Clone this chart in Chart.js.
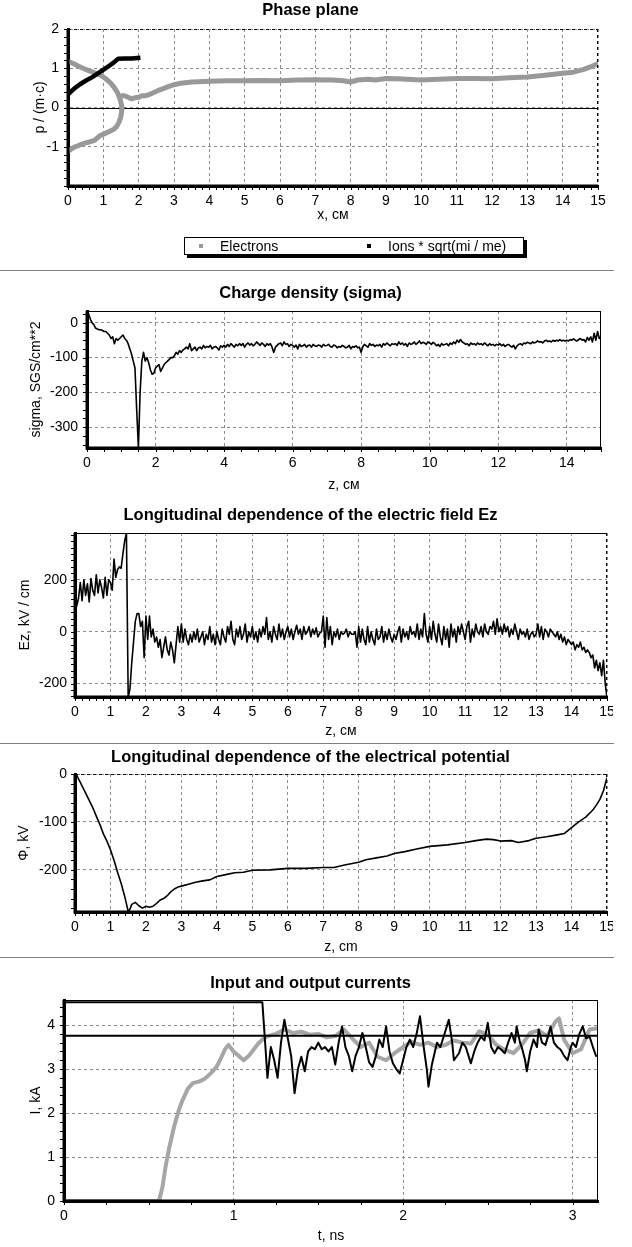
<!DOCTYPE html>
<html>
<head>
<meta charset="utf-8">
<script src="https://cdn.jsdelivr.net/npm/chart.js@4.4.1/dist/chart.umd.min.js"></script>
<style>
  html, body { margin:0; padding:0; background:#fff; }
  body { width:632px; height:1247px; position:relative; overflow:hidden; }
  .panel { position:absolute; left:0; overflow:hidden; }
  .sep { position:absolute; left:0; width:614px; height:1px; background:#808080; }
</style>
</head>
<body>
<div class="panel" style="top:0;width:632px;height:270px"><canvas id="c1" width="632" height="270"></canvas></div>
<div class="sep" style="top:270px"></div>
<div class="panel" style="top:271px;width:632px;height:229px"><canvas id="c2" width="632" height="229"></canvas></div>
<div class="panel" style="top:500px;width:613px;height:243px"><canvas id="c3" width="632" height="243"></canvas></div>
<div class="sep" style="top:743px"></div>
<div class="panel" style="top:744px;width:613px;height:213px"><canvas id="c4" width="632" height="213"></canvas></div>
<div class="sep" style="top:957px"></div>
<div class="panel" style="top:958px;width:632px;height:289px"><canvas id="c5" width="632" height="289"></canvas></div>
<script>
// ================= DATA =================
// --- Panel 1: Phase plane ---
const phaseXTicks = [0,1,2,3,4,5,6,7,8,9,10,11,12,13,14,15];
const phaseYTicks = [-1,0,1,2];
const electronX = [0.0,0.15,0.3,0.5,0.7,0.9,1.05,1.2,1.3,1.4,1.47,1.52,1.52,1.49,1.44,1.38,1.3,1.2,1.1,1.0,0.9,0.8,0.75,0.7,0.6,0.5,0.4,0.3,0.2,0.1,0.0,
  null,
  1.5,1.6,1.7,1.8,1.9,2.0,2.1,2.2,2.3,2.4,2.6,2.8,3.0,3.2,3.5,4.0,4.5,5.0,5.5,6.0,6.5,7.0,7.5,7.8,8.0,8.2,8.5,8.7,9.0,9.3,9.6,10.0,10.5,11.0,11.5,12.0,12.5,13.0,13.5,14.0,14.3,14.6,14.8,15.0];
const electronP = [1.18,1.12,1.05,0.97,0.9,0.83,0.75,0.63,0.52,0.38,0.22,0.05,-0.1,-0.25,-0.38,-0.48,-0.55,-0.6,-0.64,-0.68,-0.72,-0.8,-0.84,-0.85,-0.88,-0.9,-0.93,-0.97,-1.0,-1.05,-1.12,
  null,
  0.3,0.3,0.26,0.22,0.25,0.26,0.3,0.3,0.33,0.37,0.45,0.52,0.58,0.62,0.65,0.67,0.68,0.68,0.69,0.68,0.7,0.71,0.7,0.68,0.65,0.7,0.72,0.7,0.74,0.73,0.72,0.7,0.72,0.74,0.74,0.73,0.76,0.78,0.82,0.87,0.9,0.97,1.04,1.12];
const ionX = [0,0.1,0.2,0.35,0.5,0.7,0.9,1.1,1.3,1.42,1.6,1.8,2.05];
const ionP = [0.33,0.42,0.5,0.6,0.68,0.78,0.9,1.02,1.15,1.24,1.25,1.25,1.27];

// --- Panel 2: Charge density (sampled every 0.05 cm from z = 0) ---
const sigmaXTicks = [0,2,4,6,8,10,12,14];
const sigmaYTicks = [-300,-200,-100,0];
const sigmaStep = 0.05;
const sigmaValues = [
  30,25,10,0,-5,-15,-18,-20,-20,-22,
  -25,-25,-30,-35,-45,-40,-60,-45,-50,-45,
  -40,-35,-45,-50,-60,-75,-90,-110,-130,-250,
  -360,-200,-110,-85,-110,-100,-115,-135,-148,-145,
  -130,-125,-120,-140,-130,-120,-115,-110,-105,-100,
  -100,-95,-85,-90,-80,-85,-78,-75,-70,-75,
  -60,-80,-75,-70,-80,-72,-70,-75,-65,-72,
  -68,-70,-65,-75,-70,-68,-72,-78,-66,-70,
  -65,-70,-62,-68,-60,-65,-70,-62,-66,-60,
  -65,-60,-70,-62,-58,-64,-60,-66,-62,-55,
  -60,-65,-58,-62,-68,-60,-64,-60,-70,-85,
  -70,-65,-60,-58,-66,-55,-62,-60,-68,-62,
  -65,-70,-64,-75,-62,-68,-66,-62,-70,-65,
  -64,-70,-62,-66,-68,-64,-65,-70,-62,-66,
  -65,-62,-68,-70,-64,-66,-72,-68,-70,-65,
  -68,-72,-70,-65,-75,-68,-70,-66,-72,-70,
  -85,-68,-62,-66,-70,-60,-65,-62,-68,-64,
  -66,-62,-70,-60,-64,-58,-62,-66,-60,-62,
  -60,-65,-55,-62,-58,-64,-60,-68,-58,-62,
  -60,-55,-62,-58,-52,-60,-56,-58,-62,-55,
  -58,-62,-56,-60,-66,-62,-68,-60,-64,-62,
  -60,-66,-58,-62,-55,-60,-50,-56,-48,-55,
  -58,-62,-60,-66,-58,-62,-60,-64,-58,-62,
  -60,-64,-58,-62,-66,-60,-64,-62,-66,-62,
  -64,-60,-66,-62,-68,-64,-62,-66,-70,-65,
  -75,-66,-62,-60,-64,-58,-60,-56,-58,-60,
  -55,-58,-56,-52,-55,-54,-58,-52,-50,-54,
  -52,-55,-50,-53,-50,-52,-48,-52,-50,-52,
  -50,-52,-48,-50,-46,-50,-52,-48,-45,-50,
  -48,-55,-42,-50,-40,-55,-30,-50,-25,-45,
  -40];

// --- Panel 3: Electric field Ez (sampled every 0.05 cm from z = 0) ---
const ezXTicks = [0,1,2,3,4,5,6,7,8,9,10,11,12,13,14,15];
const ezYTicks = [-200,0,200];
const ezStep = 0.05;
const ezValues = [
  80,100,130,190,120,200,140,185,115,205,
  160,140,220,150,200,170,130,210,140,200,
  190,160,280,210,240,250,245,300,350,380,
  -255,-220,-120,-40,40,70,70,20,40,-100,
  60,-30,60,-20,10,-40,-20,-60,-30,-100,
  -60,-20,-70,-90,-40,-70,-120,-50,20,-40,
  30,-40,10,-30,-50,-10,-40,0,-30,10,
  -40,-20,0,-50,-10,-30,20,-40,-10,-50,
  0,-30,-50,10,-20,-40,20,-10,40,-30,
  -50,10,-20,20,-30,-10,30,-40,0,-20,
  20,-30,0,-40,10,-20,20,-10,55,-30,
  0,-40,20,-10,-30,30,-20,10,-30,0,
  20,-20,10,-30,0,25,-10,10,-30,20,
  -10,0,20,-20,10,-10,15,-20,-5,0,
  60,-60,55,-30,20,-50,0,-20,10,-30,
  0,-10,-5,10,-20,0,-10,-10,0,-60,
  20,-40,10,-30,-50,20,-40,0,-30,-50,
  10,-30,-20,20,-40,0,-30,10,-20,-40,
  -10,-30,0,20,-40,10,-20,0,-30,20,
  -10,0,-20,30,-30,10,-20,70,-10,-40,
  20,-30,40,-10,-40,30,-20,-50,20,-30,
  10,-60,30,-20,10,-40,20,-10,30,0,
  -30,20,40,-40,10,-20,30,0,-10,20,
  -20,30,0,-10,20,10,40,-10,50,0,
  20,-10,30,0,20,-20,10,-10,30,0,
  -30,10,-10,0,-20,10,-30,-10,0,-20,
  -10,30,-20,20,-30,10,0,-20,10,0,
  -10,-20,0,-30,-10,-40,-20,-50,-30,-40,
  -50,-40,-70,-50,-60,-40,-70,-60,-80,-70,
  -80,-100,-90,-140,-110,-150,-120,-170,-110,-200,
  -255];

// --- Panel 4: Electrical potential ---
const phiXTicks = [0,1,2,3,4,5,6,7,8,9,10,11,12,13,14,15];
const phiYTicks = [-200,-100,0];
const phiZ = [0,0.05,0.1,0.2,0.3,0.4,0.5,0.6,0.7,0.8,0.9,1.0,1.1,1.2,1.3,1.4,1.5,1.55,1.6,1.7,1.8,1.9,2.0,2.1,2.2,2.3,2.4,2.5,2.6,2.7,2.8,2.9,3.0,3.2,3.4,3.6,3.8,4.0,4.25,4.5,4.75,5.0,5.5,6.0,6.5,7.0,7.3,7.6,8.0,8.2,8.5,8.8,9.0,9.3,9.6,10.0,10.5,11.0,11.3,11.6,11.8,12.0,12.3,12.5,12.8,13.0,13.3,13.6,13.8,14.0,14.2,14.4,14.6,14.7,14.8,14.9,15.0];
const phiValues = [0,-3,-10,-25,-40,-55,-70,-88,-105,-125,-140,-158,-180,-205,-228,-255,-287,-282,-272,-268,-275,-280,-276,-278,-276,-270,-263,-260,-254,-246,-240,-236,-234,-230,-226,-223,-221,-214,-210,-206,-205,-201,-200,-197,-197,-195,-195,-190,-184,-179,-175,-171,-166,-162,-157,-151,-148,-143,-139,-136,-137,-140,-139,-143,-139,-134,-131,-127,-124,-112,-100,-90,-75,-65,-53,-35,-8];

// --- Panel 5: Input and output currents ---
const currXTicks = [0,1,2,3];
const currYTicks = [0,1,2,3,4];
const inputT = [0,1.17,1.19,1.2,1.22,1.24,1.26,1.28,1.3,1.32,1.34,1.36,1.38,1.4,1.42,1.44,1.46,1.48,1.5,1.52,1.54,1.56,1.58,1.6,1.62,1.64,1.66,1.68,1.7,1.72,1.74,1.76,1.78,1.8,1.82,1.84,1.86,1.88,1.9,1.92,1.94,1.96,1.98,2.0,2.02,2.04,2.06,2.08,2.1,2.12,2.14,2.15,2.17,2.2,2.22,2.24,2.27,2.29,2.3,2.33,2.35,2.37,2.4,2.42,2.44,2.46,2.48,2.5,2.52,2.54,2.56,2.58,2.6,2.62,2.64,2.66,2.67,2.69,2.7,2.72,2.73,2.75,2.77,2.79,2.8,2.82,2.84,2.86,2.87,2.89,2.91,2.93,2.95,2.97,2.99,3.0,3.02,3.04,3.06,3.08,3.1,3.12,3.14];
const inputI = [4.52,4.52,3.4,2.8,3.5,3.2,2.8,3.6,4.12,3.7,3.3,2.45,3.0,3.28,2.95,3.4,3.5,3.45,3.6,3.45,3.5,3.4,3.5,3.1,3.6,3.97,3.5,3.3,2.95,3.3,3.5,3.82,3.5,3.15,3.05,3.3,3.67,3.5,3.97,3.4,3.13,3.0,2.9,3.2,3.5,3.67,3.5,3.8,4.2,3.55,3.0,2.6,3.1,3.6,3.5,3.74,4.12,3.6,3.2,3.36,3.6,3.5,3.13,3.4,3.6,3.74,3.65,4.05,3.5,3.36,3.5,3.44,3.36,3.6,3.82,3.6,3.97,3.6,3.5,3.2,2.95,3.4,3.67,3.5,3.9,3.6,3.55,3.8,3.97,3.6,3.5,3.44,3.3,3.2,3.5,3.6,3.5,3.8,3.97,3.7,3.74,3.5,3.28];
const outputT = [0,0.56,0.58,0.6,0.62,0.65,0.68,0.7,0.73,0.76,0.8,0.83,0.86,0.9,0.92,0.95,0.97,1.0,1.03,1.06,1.09,1.12,1.15,1.18,1.2,1.25,1.3,1.35,1.4,1.45,1.5,1.55,1.6,1.65,1.7,1.75,1.8,1.85,1.9,1.95,2.0,2.05,2.1,2.15,2.2,2.25,2.3,2.35,2.4,2.45,2.5,2.55,2.6,2.65,2.7,2.75,2.8,2.85,2.9,2.92,2.95,3.0,3.05,3.1,3.15];
const outputI = [0,0,0.3,0.8,1.2,1.7,2.1,2.3,2.55,2.68,2.72,2.78,2.88,3.05,3.2,3.45,3.55,3.4,3.3,3.2,3.3,3.45,3.6,3.7,3.75,3.8,3.9,3.82,3.85,3.78,3.8,3.72,3.75,3.9,3.7,3.5,3.6,3.28,3.2,3.36,3.5,3.62,3.55,3.6,3.5,3.55,3.65,3.6,3.58,3.86,3.78,3.55,3.44,3.36,3.55,3.82,3.88,3.75,4.08,4.15,3.67,3.36,3.45,3.9,3.93];
const limitCurrent = 3.76;
const currTMax = 3.15;

// ================= RENDERING =================
const FONT = '"Liberation Sans", Arial, Helvetica, sans-serif';
Chart.defaults.font.family = FONT;
Chart.defaults.font.size = 14;
Chart.defaults.color = '#000';

const pairs = (xs, ys) => xs.map((x, i) => ({x: x, y: ys[i]}));
const sampled = (vals, step) => vals.map((v, i) => ({x: Math.round(i * step * 1000) / 1000, y: v}));

const deco = {
  id: 'deco',
  beforeDatasetsDraw(chart, args, o) {
    if (!o || !o.zeroLine) return;
    const {ctx, chartArea: a, scales: {y}} = chart;
    const py = Math.round(y.getPixelForValue(0)) + 0.5;
    ctx.save();
    ctx.strokeStyle = '#000'; ctx.lineWidth = 1;
    ctx.beginPath(); ctx.moveTo(a.left, py); ctx.lineTo(a.right, py); ctx.stroke();
    ctx.restore();
  },
  afterDatasetsDraw(chart, args, o) {
    if (!o) return;
    const {ctx, chartArea: a, scales: {x, y}} = chart;
    ctx.save();
    // frame: top and right edges
    ctx.strokeStyle = '#000'; ctx.lineWidth = 1;
    ctx.setLineDash(o.topDash ? [3,3] : []);
    ctx.beginPath(); ctx.moveTo(a.left, Math.round(a.top) + 0.5); ctx.lineTo(a.right, Math.round(a.top) + 0.5); ctx.stroke();
    ctx.setLineDash(o.rightDash ? [3,3] : []);
    ctx.beginPath(); ctx.moveTo(Math.round(a.right) - 0.5, a.top); ctx.lineTo(Math.round(a.right) - 0.5, a.bottom); ctx.stroke();
    ctx.setLineDash([]);
    // thick left and bottom axes on top of the curves
    ctx.lineWidth = 3;
    ctx.beginPath();
    ctx.moveTo(Math.round(a.left), a.top); ctx.lineTo(Math.round(a.left), Math.round(a.bottom) + 1.5);
    ctx.moveTo(a.left - 1.5, Math.round(a.bottom)); ctx.lineTo(a.right, Math.round(a.bottom));
    ctx.stroke();
    ctx.lineWidth = 1;
    // minor ticks
    if (o.minorX) {
      const s = o.minorX;
      for (let k = Math.ceil(x.min / s - 1e-6); k * s <= x.max + 1e-9; k++) {
        const px = Math.round(x.getPixelForValue(k * s)) + 0.5;
        ctx.beginPath(); ctx.moveTo(px, a.bottom + 1); ctx.lineTo(px, a.bottom + 4); ctx.stroke();
      }
    }
    if (o.minorY) {
      const s = o.minorY;
      for (let k = Math.ceil(y.min / s - 1e-6); k * s <= y.max + 1e-9; k++) {
        const py = Math.round(y.getPixelForValue(k * s)) + 0.5;
        ctx.beginPath(); ctx.moveTo(a.left - 1, py); ctx.lineTo(a.left - 4, py); ctx.stroke();
      }
    }
    // boxed legend with shadow
    if (o.legend) {
      const L = o.legend;
      ctx.fillStyle = '#000';
      ctx.fillRect(L.x + 3, L.y + 3, L.w, L.h);
      ctx.fillStyle = '#fff';
      ctx.fillRect(L.x, L.y, L.w, L.h);
      ctx.strokeStyle = '#000';
      ctx.strokeRect(L.x + 0.5, L.y + 0.5, L.w - 1, L.h - 1);
      ctx.font = '14px ' + FONT;
      ctx.textBaseline = 'middle';
      ctx.textAlign = 'left';
      chart.data.datasets.forEach((ds, i) => {
        const mx = L.items[i];
        const cy = L.y + L.h / 2;
        ctx.fillStyle = ds.borderColor;
        ctx.fillRect(mx - 2, cy - 2, 4, 4);
        ctx.fillStyle = '#000';
        ctx.fillText(ds.label, mx + L.gap, cy + 1);
      });
    }
    ctx.restore();
  }
};
Chart.register(deco);

function panel(id, c) {
  const W = 632, lh = 16.8, center = 621;
  const tSize = 16.5, tlh = tSize * 1.2;
  return new Chart(document.getElementById(id), {
    type: 'line',
    data: { datasets: c.datasets },
    options: {
      responsive: false, animation: false, events: [],
      layout: { padding: { left: 0, top: 0, right: W - center, bottom: c.H - (c.xTitleCY + lh / 2) } },
      elements: { point: { radius: 0 }, line: { tension: 0, borderJoinStyle: 'round', borderCapStyle: 'butt' } },
      plugins: {
        legend: { display: false },
        tooltip: { enabled: false },
        title: { display: true, text: c.title, color: '#000',
                 font: { size: tSize, weight: 'bold' },
                 padding: { top: c.titleCY - tlh / 2, bottom: c.plotTop - c.titleCY - tlh / 2 } },
        deco: c.deco
      },
      scales: {
        x: {
          type: 'linear', min: c.xMin, max: c.xMax,
          afterBuildTicks: s => { s.ticks = c.xTicks.map(v => ({value: v})); },
          afterFit: s => { s.height = c.xTitleCY + lh / 2 - c.plotBottom; s.paddingLeft = 0; s.paddingRight = 0; },
          ticks: { autoSkip: false, maxRotation: 0, minRotation: 0, padding: c.xPad, color: '#000' },
          grid: { color: '#8c8c8c', lineWidth: 1, drawTicks: false },
          border: { display: true, color: '#000', width: 3, dash: [3, 3] },
          title: { display: true, text: c.xTitle, color: '#000', padding: { top: 0, bottom: 0 } }
        },
        y: {
          type: 'linear', position: 'left', min: c.yMin, max: c.yMax,
          afterBuildTicks: s => { s.ticks = c.yTicks.map(v => ({value: v})); },
          afterFit: s => { s.width = c.plotLeft; s.paddingTop = 0; s.paddingBottom = 0; },
          ticks: { autoSkip: false, padding: c.yPad, color: '#000' },
          grid: { color: '#8c8c8c', lineWidth: 1, drawTicks: false },
          border: { display: true, color: '#000', width: 3, dash: [3, 3] },
          title: { display: true, text: c.yTitle, color: '#000', padding: { top: c.yTitleCX - lh / 2, bottom: 0 } }
        },
        yR: {
          type: 'linear', position: 'right', display: true,
          grid: { display: false }, border: { display: false }, ticks: { display: false },
          afterFit: s => { s.width = center - c.plotRight; s.paddingTop = 0; s.paddingBottom = 0; }
        }
      }
    }
  });
}

// Panel 1
panel('c1', {
  H: 270, title: 'Phase plane', titleCY: 10, plotTop: 29, plotBottom: 186, plotLeft: 68, plotRight: 598,
  xMin: 0, xMax: 15, yMin: -2, yMax: 2, xTicks: phaseXTicks, yTicks: phaseYTicks,
  xTitle: 'x, см', xTitleCY: 215, yTitle: 'p / (m·c)', yTitleCX: 40, xPad: 7, yPad: 9,
  deco: { topDash: true, rightDash: true, zeroLine: true, minorX: 0.2, minorY: 0.2,
          legend: { x: 184, y: 237, w: 340, h: 18, items: [201, 369], gap: 19 } },
  datasets: [
    { label: 'Electrons', data: pairs(electronX, electronP), borderColor: '#999999', backgroundColor: '#999999',
      borderWidth: 5, spanGaps: false, order: 1, yAxisID: 'y' },
    { label: 'Ions * sqrt(mi / me)', data: pairs(ionX, ionP), borderColor: '#000000', backgroundColor: '#000000',
      borderWidth: 4.5, order: 0, yAxisID: 'y' }
  ]
});

// Panel 2
panel('c2', {
  H: 229, title: 'Charge density (sigma)', titleCY: 22, plotTop: 40, plotBottom: 177, plotLeft: 87, plotRight: 601,
  xMin: 0, xMax: 15, yMin: -360, yMax: 34, xTicks: sigmaXTicks, yTicks: sigmaYTicks,
  xTitle: 'z, см', xTitleCY: 214, yTitle: 'sigma, SGS/cm**2', yTitleCX: 36, xPad: 7, yPad: 9,
  deco: { topDash: false, rightDash: false, minorX: 0.5, minorY: 25 },
  datasets: [
    { label: 'sigma', data: sampled(sigmaValues, sigmaStep), borderColor: '#000', borderWidth: 1.6, yAxisID: 'y' }
  ]
});

// Panel 3
panel('c3', {
  H: 243, title: 'Longitudinal dependence of the electric field Ez', titleCY: 15, plotTop: 33, plotBottom: 197, plotLeft: 75, plotRight: 607,
  xMin: 0, xMax: 15, yMin: -252, yMax: 381, xTicks: ezXTicks, yTicks: ezYTicks,
  xTitle: 'z, см', xTitleCY: 231, yTitle: 'Ez, kV / cm', yTitleCX: 25, xPad: 7, yPad: 8,
  deco: { topDash: false, rightDash: true, minorX: 0.2, minorY: 25 },
  datasets: [
    { label: 'Ez', data: sampled(ezValues, ezStep), borderColor: '#000', borderWidth: 1.6, yAxisID: 'y' }
  ]
});

// Panel 4
panel('c4', {
  H: 213, title: 'Longitudinal dependence of the electrical potential', titleCY: 13, plotTop: 30, plotBottom: 168, plotLeft: 75, plotRight: 607,
  xMin: 0, xMax: 15, yMin: -288, yMax: 0, xTicks: phiXTicks, yTicks: phiYTicks,
  xTitle: 'z, cm', xTitleCY: 203, yTitle: 'Φ, kV', yTitleCX: 24, xPad: 7, yPad: 8,
  deco: { topDash: true, rightDash: true, minorX: 0.2, minorY: 20 },
  datasets: [
    { label: 'Phi', data: pairs(phiZ, phiValues), borderColor: '#000', borderWidth: 1.6, yAxisID: 'y' }
  ]
});

// Panel 5
panel('c5', {
  H: 289, title: 'Input and output currents', titleCY: 25, plotTop: 42, plotBottom: 243, plotLeft: 64, plotRight: 598,
  xMin: 0, xMax: currTMax, yMin: 0, yMax: 4.57, xTicks: currXTicks, yTicks: currYTicks,
  xTitle: 't, ns', xTitleCY: 278, yTitle: 'I, kA', yTitleCX: 36, xPad: 7, yPad: 9,
  deco: { topDash: false, rightDash: false, minorX: 0.25, minorY: 0.2 },
  datasets: [
    { label: 'Output', data: pairs(outputT, outputI), borderColor: '#a6a6a6', borderWidth: 4, order: 2, yAxisID: 'y' },
    { label: 'Limit', data: [{x: 0, y: limitCurrent}, {x: currTMax, y: limitCurrent}], borderColor: '#000', borderWidth: 2, order: 1, yAxisID: 'y' },
    { label: 'Input', data: pairs(inputT, inputI), borderColor: '#000', borderWidth: 2, order: 0, yAxisID: 'y' }
  ]
});
</script>
</body>
</html>
